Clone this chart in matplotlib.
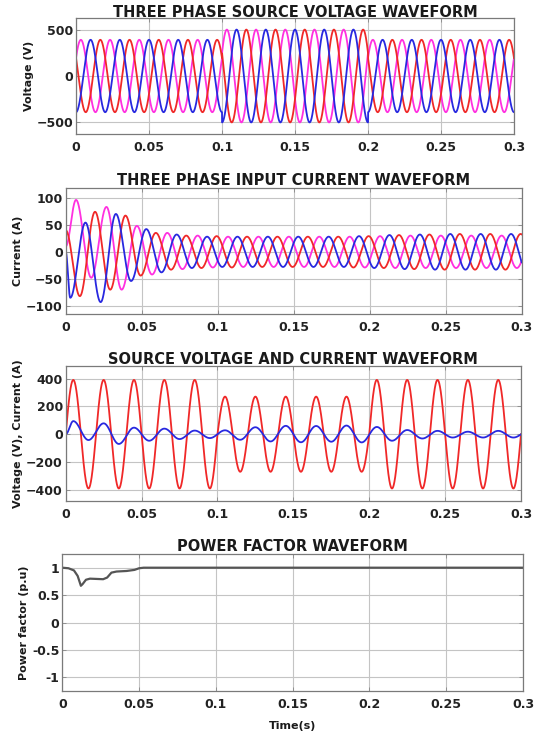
import numpy as np
import matplotlib
matplotlib.use("Agg")
import matplotlib.pyplot as plt

# Time base and supply frequency
t_end = 0.3
f_sup = 50.0

# Source voltage: amplitude per interval (normal / swell / normal)
seg_edges = [0.0, 0.1, 0.2, 0.3]
src_amp = [390, 500, 390]
src_phase_deg = {"m": 30, "r": 150, "b": -90}

# Input currents: value at t=0, first extremum time, then one extremum every half cycle
ia_start, ia_t0 = 0, 0.003
ia_peaks = [-85, 54, -93, 70, -54, 42, -38, 32, -30, 28,
            -28, 28, -28, 28, -28, 28, -28, 28, -28, 29,
            -30, 31, -32, 32, -33, 33, -33, 33, -33, 33, -33]
ib_start, ib_t0 = 40, 0.0093
ib_peaks = [-82, 74, -70, 67, -44, 35, -33, 30, -30, 29,
            -29, 28, -28, 28, -28, 28, -28, 28, -29, 29,
            -30, 31, -32, 32, -33, 33, -33, 33, -33, 33, -33]
ic_start, ic_t0 = 10, 0.0068
ic_peaks = [96, -48, 83, -70, 48, -42, 35, -32, 30, -29,
            28, -28, 28, -28, 28, -28, 28, -28, 28, -29,
            29, -30, 30, -30, 30, -30, 30, -30, 30, -30, 30]

# Phase-a voltage (sag case) and its current
va_amp = [390, 270, 390]
ia2_start, ia2_t0 = 0, 0.005
ia2_peaks = [94, -42, 78, -70, 47, -47, 40, -35, 26, -28,
             28, -40, 50, -52, 60, -58, 59, -54, 62, -59,
             52, -47, 30, -31, 24, -24, 18, -24, 24, -24, 22]

# Power factor
pf_t = [0, 0.004, 0.0076, 0.010, 0.0121, 0.0132, 0.0154, 0.018, 0.0266,
        0.0292, 0.032, 0.0353, 0.0418, 0.047, 0.050, 0.053, 0.3]
pf_v = [1.0, 0.99, 0.95, 0.85, 0.67, 0.70, 0.78, 0.80, 0.79,
        0.82, 0.91, 0.93, 0.94, 0.96, 0.99, 1.0, 1.0]

xticks = [0, 0.05, 0.1, 0.15, 0.2, 0.25, 0.3]
xticklabels = ["0", "0.05", "0.1", "0.15", "0.2", "0.25", "0.3"]

t = np.linspace(0, t_end, 6001)
w = 2 * np.pi * f_sup


def seg_amp(t, amps):
    idx = np.clip(np.searchsorted(seg_edges, t, side="right") - 1, 0, len(amps) - 1)
    return np.asarray(amps, dtype=float)[idx]


def from_extrema(t, start, t0, peaks, step=0.01):
    # half-cosine segments between successive extrema
    tp = np.concatenate([[0.0], t0 + step * np.arange(len(peaks))])
    vp = np.concatenate([[start], peaks]).astype(float)
    idx = np.clip(np.searchsorted(tp, t, side="right") - 1, 0, len(tp) - 2)
    frac = np.clip((t - tp[idx]) / (tp[idx + 1] - tp[idx]), 0, 1)
    k = (1 - np.cos(np.pi * frac)) / 2
    return vp[idx] + (vp[idx + 1] - vp[idx]) * k


RED = "#f02828"
BLUE = "#2828e0"
MAG = "#ff30e0"

plt.rcParams["font.family"] = ["DejaVu Sans"]
plt.rcParams["font.weight"] = "bold"

fig = plt.figure(figsize=(5.43, 7.35), dpi=100)
W, H = 543.0, 735.0


def make_ax(l, r, top, bot):
    return fig.add_axes([l / W, 1 - bot / H, (r - l) / W, (bot - top) / H])


def style(ax, title, ylabel, ylim, yticks, pad_title):
    ax.set_xlim(0, t_end)
    ax.set_ylim(*ylim)
    ax.set_xticks(xticks)
    ax.set_xticklabels(xticklabels)
    ax.set_yticks(yticks)
    ax.grid(True, color="#c4c4c4", lw=0.8)
    ax.set_axisbelow(True)
    ax.tick_params(direction="in", length=3, width=0.6, colors="#888888",
                   labelcolor="#222222", labelsize=9, top=True, right=True)
    ax.tick_params(axis="x", pad=5)
    ax.tick_params(axis="y", pad=2)
    for lab in ax.get_xticklabels() + ax.get_yticklabels():
        lab.set_fontweight("bold")
    for s in ax.spines.values():
        s.set_color("#7a7a7a")
        s.set_linewidth(0.9)
    ax.set_title(title, fontsize=10.5, fontweight="bold", pad=pad_title, color="#1a1a1a")
    ax.set_ylabel(ylabel, fontsize=8, fontweight="bold", color="#1a1a1a", labelpad=2)


# Three phase source voltage
ax1 = make_ax(76, 514, 18, 134)
amp1 = seg_amp(t, src_amp)
ax1.plot(t, amp1 * np.sin(w * t + np.deg2rad(src_phase_deg["m"])), color=MAG, lw=1.3)
ax1.plot(t, amp1 * np.sin(w * t + np.deg2rad(src_phase_deg["r"])), color=RED, lw=1.3)
ax1.plot(t, amp1 * np.sin(w * t + np.deg2rad(src_phase_deg["b"])), color=BLUE, lw=1.3)
style(ax1, "THREE PHASE SOURCE VOLTAGE WAVEFORM", "Voltage (V)", (-625, 625), [-500, 0, 500], 1)

# Three phase input current
ax2 = make_ax(65.7, 521.7, 188, 314)
ax2.plot(t, from_extrema(t, ic_start, ic_t0, ic_peaks), color=MAG, lw=1.3)
ax2.plot(t, from_extrema(t, ib_start, ib_t0, ib_peaks), color=RED, lw=1.3)
ax2.plot(t, from_extrema(t, ia_start, ia_t0, ia_peaks), color=BLUE, lw=1.3)
style(ax2, "THREE PHASE INPUT CURRENT WAVEFORM", "Current (A)", (-115, 118),
      [-100, -50, 0, 50, 100], 2.5)

# Source voltage and current of one phase
ax3 = make_ax(65.7, 521, 366, 501)
ax3.plot(t, seg_amp(t, va_amp) * np.sin(w * t), color=RED, lw=1.3)
ax3.plot(t, from_extrema(t, ia2_start, ia2_t0, ia2_peaks), color=BLUE, lw=1.3)
style(ax3, "SOURCE VOLTAGE AND CURRENT WAVEFORM", "Voltage (V), Current (A)", (-480, 490),
      [-400, -200, 0, 200, 400], 1.5)

# Power factor
ax4 = make_ax(62.3, 523, 554, 691)
ax4.plot(pf_t, pf_v, color="#555555", lw=1.6)
style(ax4, "POWER FACTOR WAVEFORM", "Power factor (p.u)", (-1.25, 1.25),
      [-1, -0.5, 0, 0.5, 1], 2.5)
ax4.set_yticklabels(["-1", "-0.5", "0", "0.5", "1"])
for lab in ax4.get_yticklabels():
    lab.set_fontweight("bold")
ax4.set_xlabel("Time(s)", fontsize=8, fontweight="bold", color="#1a1a1a", labelpad=7)

fig.savefig("out.png", dpi=100)
